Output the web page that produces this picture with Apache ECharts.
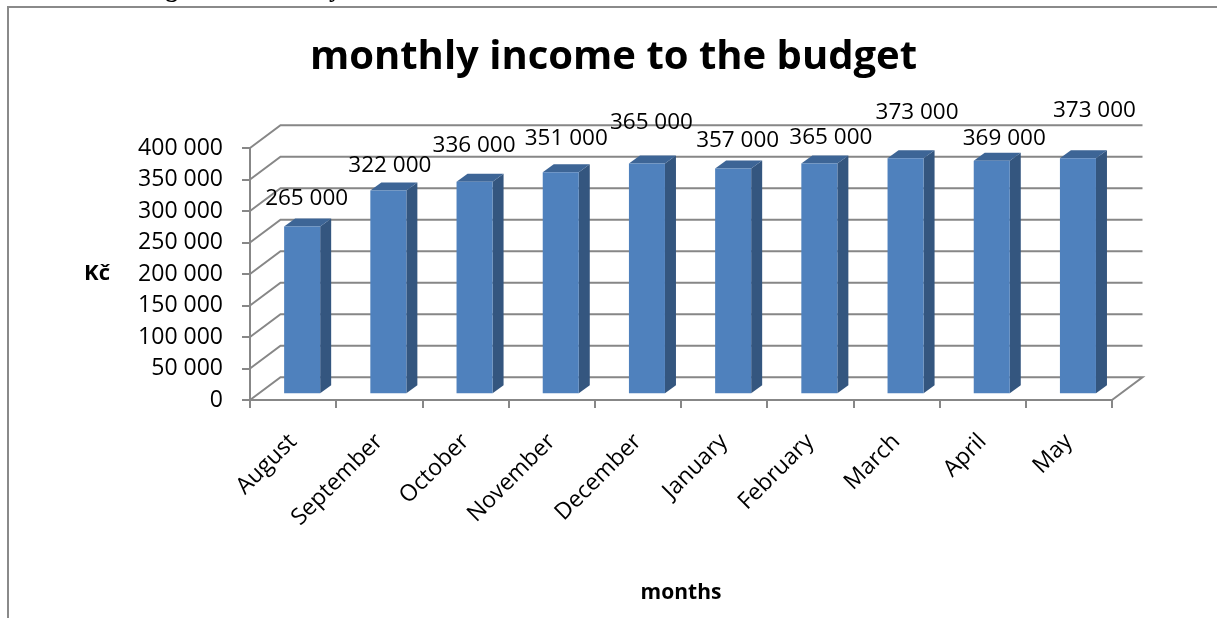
<!DOCTYPE html>
<html><head><meta charset="utf-8">
<script src="https://cdn.jsdelivr.net/npm/echarts@6/dist/echarts.min.js"></script>
<style>html,body{margin:0;padding:0;background:#fff;overflow:hidden}#c{width:1217px;height:618px}</style>
</head><body><div id="c"></div>
<script>
// ---- data ----
const months = ['August','September','October','November','December','January','February','March','April','May'];
const income = [265000, 322000, 336000, 351000, 365000, 357000, 365000, 373000, 369000, 373000];
const yTicks = [0, 50000, 100000, 150000, 200000, 250000, 300000, 350000, 400000];
const chartTitle = 'monthly income to the budget';
const caption = 'Chart 3: Progress of monthly income';
const yName = 'Kč';
const xName = 'months';

// ---- layout / style (not data) ----
const labelLift = [28, 25, 36, 34, 41, 28, 26, 46, 22, 48];
const labelShiftX = [-1, -4, -6, 0, -1, -1, 6, 6, 7, 11];
const GRAY = '#878787';
const FONT = '"Open Sans", "Liberation Sans", sans-serif';
const DX = 30.5, DY = 22.7;      // back wall depth offset
const fmt = v => String(v).replace(/\B(?=(\d{3})+(?!\d))/g, ' ');

const chart = echarts.init(document.getElementById('c'), null, {renderer: 'canvas'});
const option = {
  animation: false,
  backgroundColor: '#fff',
  graphic: [
    {type: 'line', z: 0, silent: true, shape: {x1: 8, y1: 7, x2: 8, y2: 618},
     style: {stroke: '#8a8a8a', lineWidth: 2}},
    {type: 'line', z: 0, silent: true, shape: {x1: 7, y1: 7, x2: 1217, y2: 7},
     style: {stroke: '#8a8a8a', lineWidth: 2}},
    {type: 'text', z: 1, silent: true, x: 30, y: -9,
     style: {text: caption, fontFamily: '"Liberation Serif", serif', fontWeight: 'bold', fontSize: 25,
             fill: '#000', align: 'left', verticalAlign: 'middle', width: 600, overflow: 'none'}},
    {type: 'text', z: 1, silent: true, x: 613.5, y: 58,
     style: {text: chartTitle, fontFamily: FONT, fontWeight: 'bold', fontSize: 40,
             fill: '#000', align: 'center', verticalAlign: 'middle'}}
  ],
  grid: {left: 250, top: 148, width: 862, height: 252},
  xAxis: {
    type: 'category', data: months, boundaryGap: true,
    axisLine: {show: true, lineStyle: {color: GRAY, width: 2}},
    axisTick: {show: true, length: 8, lineStyle: {color: GRAY, width: 2}},
    axisLabel: {show: false},
    splitLine: {show: false},
    name: xName, nameLocation: 'middle', nameGap: 183,
    nameTextStyle: {fontFamily: FONT, fontWeight: 'bold', fontSize: 21, color: '#000'}
  },
  yAxis: {
    type: 'value', min: 0, max: 400000, interval: 50000,
    axisLine: {show: true, lineStyle: {color: GRAY, width: 2}},
    axisTick: {show: true, length: 8, lineStyle: {color: GRAY, width: 2}},
    splitLine: {show: false},
    axisLabel: {formatter: fmt, margin: 27, fontFamily: FONT, fontSize: 23, color: '#000'},
    name: yName, nameLocation: 'middle', nameRotate: 0, nameGap: 140,
    nameTextStyle: {fontFamily: FONT, fontWeight: 'bold', fontSize: 22, color: '#000'}
  },
  series: [
    {
      type: 'custom', z: 1, silent: true,
      data: yTicks.map(v => [0, v]),
      encode: {x: 0, y: 1},
      renderItem: function (params, api) {
        const v = api.value(1);
        const py = api.coord([0, v])[1];
        const cs = params.coordSys;
        const L = cs.x, R = cs.x + cs.width;
        const pts = [[L, py], [L + DX, py - DY], [R + DX, py - DY]];
        if (v === 0) pts.push([R, py]);
        return {type: 'polyline', shape: {points: pts},
                style: {stroke: GRAY, lineWidth: 2, fill: null}};
      }
    },
    {
      type: 'custom', z: 2, silent: true,
      data: income.map((v, i) => [i, v]),
      encode: {x: 0, y: 1},
      renderItem: function (params, api) {
        const i = api.value(0), v = api.value(1);
        const topP = api.coord([i, v]);
        const base = api.coord([i, 0]);
        const band = api.size([1, 0])[0];
        const w = band * 0.418;
        const sx = band * 0.104;         // mid-depth shift
        const sy = sx * DY / DX;
        const ddx = 11, ddy = 8;         // bar depth
        const left = topP[0] - band * 0.104, right = left + w;
        const yT = topP[1] - sy, yB = base[1] - sy;
        return {
          type: 'group',
          children: [
            {type: 'polygon', shape: {points: [[right, yT], [right + ddx, yT - ddy], [right + ddx, yB - ddy], [right, yB]]},
             style: {fill: '#34567f'}},
            {type: 'polygon', shape: {points: [[left, yT], [right, yT], [right + ddx, yT - ddy], [left + ddx, yT - ddy]]},
             style: {fill: '#3d6596'}},
            {type: 'rect', shape: {x: left, y: yT, width: w, height: yB - yT},
             style: {fill: '#4f81bd'}},
            {type: 'text', x: (left + right + ddx) / 2 + labelShiftX[i], y: yT - labelLift[i],
             style: {text: fmt(v), fontFamily: FONT, fontSize: 22.5, fill: '#000',
                     align: 'center', verticalAlign: 'middle'}},
            {type: 'text', x: base[0] + sx - 9, y: base[1] + 38, rotation: Math.PI / 4,
             style: {text: months[i], fontFamily: FONT, fontSize: 23, fill: '#000',
                     align: 'right', verticalAlign: 'middle'}}
          ]
        };
      }
    }
  ]
};
chart.setOption(option);
</script>
</body></html>
